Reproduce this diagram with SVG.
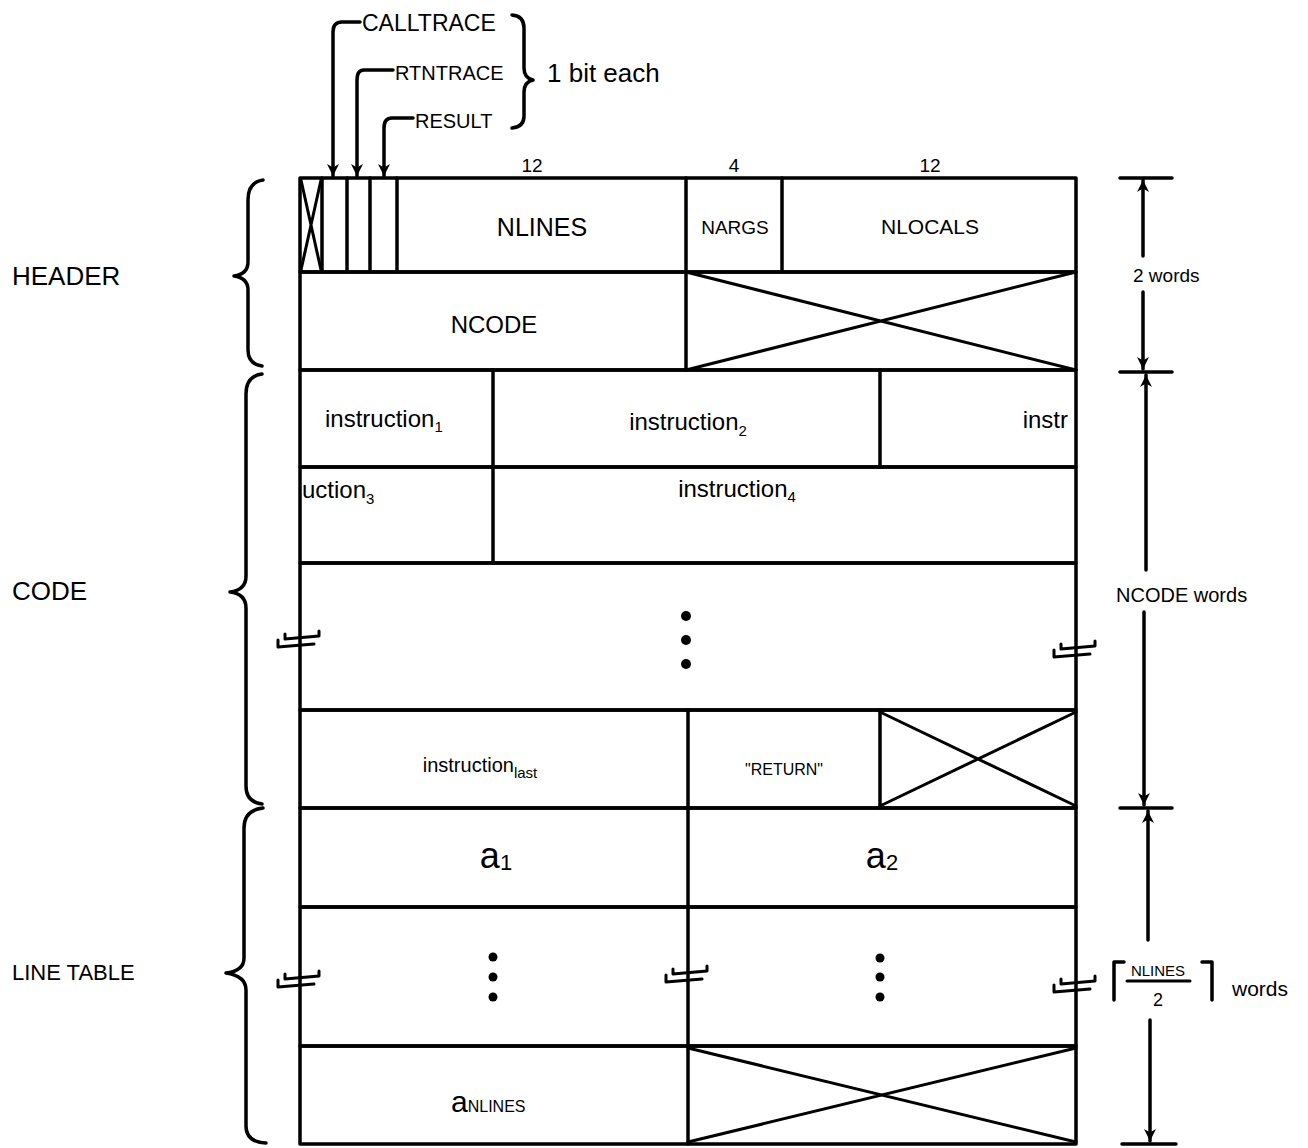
<svg xmlns="http://www.w3.org/2000/svg" width="1308" height="1148" viewBox="0 0 1308 1148">
<style>
.ln{stroke:#000;stroke-width:3.5;fill:none;stroke-linecap:round;stroke-linejoin:round}
.thin{stroke:#000;stroke-width:3;fill:none;stroke-linecap:round;stroke-linejoin:round}
.t{font-family:"Liberation Sans",Arial,sans-serif;fill:#000}
.c{text-anchor:middle}
.dot{fill:#000}
</style>
<defs>
<marker id="ah" viewBox="0 0 10 10" refX="10" refY="5" markerWidth="16" markerHeight="12" markerUnits="userSpaceOnUse" orient="auto">
<path d="M0,0 L10,5 L0,10 L3,5 z" fill="#000"/>
</marker>
<g id="brk"><path class="thin" d="M-22,0 L-22,7 L14,4 M-15,-6 L-15,-1 L19,-4 L19,-9"/></g>
</defs>
<rect width="1308" height="1148" fill="#fff"/>

<g id="header">
<g id="hdr-row1">
<rect class="ln" x="300" y="178" width="776" height="94"/>
<path class="ln" d="M322,178 V272 M347,178 V272 M370,178 V272 M397,178 V272 M686,178 V272 M782,178 V272"/>
<path class="thin" d="M301,180 L321,270 M321,180 L301,270"/>
<text class="t c" x="542" y="236" font-size="25">NLINES</text>
<text class="t c" x="735" y="234" font-size="19">NARGS</text>
<text class="t c" x="930" y="234" font-size="21">NLOCALS</text>
<text class="t c" x="532" y="172" font-size="19">12</text>
<text class="t c" x="734" y="172" font-size="19">4</text>
<text class="t c" x="930" y="172" font-size="19">12</text>
</g>
<g id="hdr-row2">
<rect class="ln" x="300" y="272" width="776" height="98"/>
<path class="ln" d="M686,272 V370"/>
<path class="thin" d="M686,272 L1076,370 M1076,272 L686,370"/>
<text class="t c" x="494" y="333" font-size="24">NCODE</text>
</g>
</g>

<g id="code">
<g id="code-row1">
<rect class="ln" x="300" y="370" width="776" height="97"/>
<path class="ln" d="M493,370 V467 M880,370 V467"/>
<text class="t" x="325" y="427" font-size="24">instruction<tspan font-size="15" dy="5">1</tspan></text>
<text class="t c" x="688" y="430" font-size="24">instruction<tspan font-size="15" dy="6">2</tspan></text>
<text class="t" x="1068" y="428" font-size="24" text-anchor="end">instr</text>
</g>
<g id="code-row2">
<rect class="ln" x="300" y="467" width="776" height="96"/>
<path class="ln" d="M493,467 V563"/>
<text class="t" x="302" y="498" font-size="24">uction<tspan font-size="15" dy="6">3</tspan></text>
<text class="t c" x="737" y="497" font-size="24">instruction<tspan font-size="15" dy="5">4</tspan></text>
</g>
<g id="code-dots">
<rect class="ln" x="300" y="563" width="776" height="147"/>
<circle class="dot" cx="686" cy="616" r="5"/>
<circle class="dot" cx="686" cy="640" r="5"/>
<circle class="dot" cx="686" cy="664" r="5"/>
</g>
<g id="code-last">
<rect class="ln" x="300" y="710" width="776" height="98"/>
<path class="ln" d="M688,710 V808 M880,710 V808"/>
<path class="thin" d="M880,712 L1076,806 M1076,712 L880,806"/>
<text class="t c" x="480" y="772" font-size="20">instruction<tspan font-size="15" dy="6">last</tspan></text>
<text class="t c" x="784" y="775" font-size="16">"RETURN"</text>
</g>
</g>

<g id="linetable">
<g id="lt-row1">
<rect class="ln" x="300" y="808" width="776" height="99"/>
<path class="ln" d="M688,808 V907"/>
<text class="t c" x="496" y="868" font-size="36">a<tspan font-size="22" dy="2">1</tspan></text>
<text class="t c" x="882" y="868" font-size="36">a<tspan font-size="22" dy="2">2</tspan></text>
</g>
<g id="lt-dots">
<rect class="ln" x="300" y="907" width="776" height="139"/>
<path class="ln" d="M688,907 V1046"/>
<circle class="dot" cx="493" cy="957" r="4.5"/>
<circle class="dot" cx="493" cy="977" r="4.5"/>
<circle class="dot" cx="493" cy="997" r="4.5"/>
<circle class="dot" cx="880" cy="958" r="4.5"/>
<circle class="dot" cx="880" cy="977" r="4.5"/>
<circle class="dot" cx="880" cy="997" r="4.5"/>
</g>
<g id="lt-last">
<rect class="ln" x="300" y="1046" width="776" height="98"/>
<path class="ln" d="M688,1046 V1144"/>
<path class="thin" d="M688,1048 L1076,1142 M1076,1048 L688,1142"/>
<text class="t" x="451" y="1112" font-size="30">a<tspan font-size="16" dy="0">NLINES</tspan></text>
</g>
</g>

<g id="breaks">
<use href="#brk" x="300" y="640"/>
<use href="#brk" x="1076" y="650"/>
<use href="#brk" x="300" y="980"/>
<use href="#brk" x="688" y="975"/>
<use href="#brk" x="1076" y="985"/>
</g>

<g id="braces">
<path class="ln" d="M263,180 Q248,182 248,200 L248,262 Q248,274 234,276 Q248,278 248,290 L248,350 Q248,364 262,366"/>
<path class="ln" d="M262,374 Q246,376 246,394 L246,576 Q246,590 230,592 Q246,594 246,608 L246,786 Q246,802 262,804"/>
<path class="ln" d="M263,808 Q244,810 244,828 L244,958 Q244,971 226,973 Q246,976 246,990 L246,1126 Q246,1142 266,1143"/>
<path class="ln" d="M512,15 Q524,16 524,28 L524,68 Q524,78 533,80 Q524,82 524,92 L524,116 Q524,127 512,128"/>
<text class="t" x="12" y="285" font-size="26">HEADER</text>
<text class="t" x="12" y="600" font-size="26">CODE</text>
<text class="t" x="12" y="980" font-size="22">LINE TABLE</text>
<text class="t" x="547" y="82" font-size="26">1 bit each</text>
</g>

<g id="annotations">
<text class="t" x="362" y="31" font-size="23">CALLTRACE</text>
<text class="t" x="395" y="80" font-size="20">RTNTRACE</text>
<text class="t" x="415" y="128" font-size="20">RESULT</text>
</g>

<g id="connectors">
<path class="ln" marker-end="url(#ah)" d="M360,22 L342,22 Q333,22 333,32 L333,176"/>
<path class="ln" marker-end="url(#ah)" d="M393,70 L364,70 Q357,70 357,80 L357,176"/>
<path class="ln" marker-end="url(#ah)" d="M413,118 L392,118 Q384,118 384,128 L384,176"/>

<path class="ln" d="M1120,178 H1172 M1120,372 H1172 M1120,808 H1172 M1122,1144 H1176"/>
<path class="ln" marker-end="url(#ah)" d="M1143,256 V180"/>
<path class="ln" marker-end="url(#ah)" d="M1143,292 V369"/>
<path class="ln" marker-end="url(#ah)" d="M1146,570 V375"/>
<path class="ln" marker-end="url(#ah)" d="M1144,612 V805"/>
<path class="ln" marker-end="url(#ah)" d="M1148,940 V811"/>
<path class="ln" marker-end="url(#ah)" d="M1150,1020 V1141"/>
</g>

<g id="dimlabels">
<text class="t" x="1133" y="282" font-size="19">2 words</text>
<text class="t" x="1116" y="602" font-size="20">NCODE words</text>
<path class="ln" d="M1124,962 H1114 V1000 M1202,962 H1212 V1000"/>
<text class="t c" x="1158" y="976" font-size="15">NLINES</text>
<path class="thin" d="M1127,981 H1190"/>
<text class="t c" x="1158" y="1006" font-size="18">2</text>
<text class="t" x="1232" y="996" font-size="21">words</text>
</g>
</svg>
